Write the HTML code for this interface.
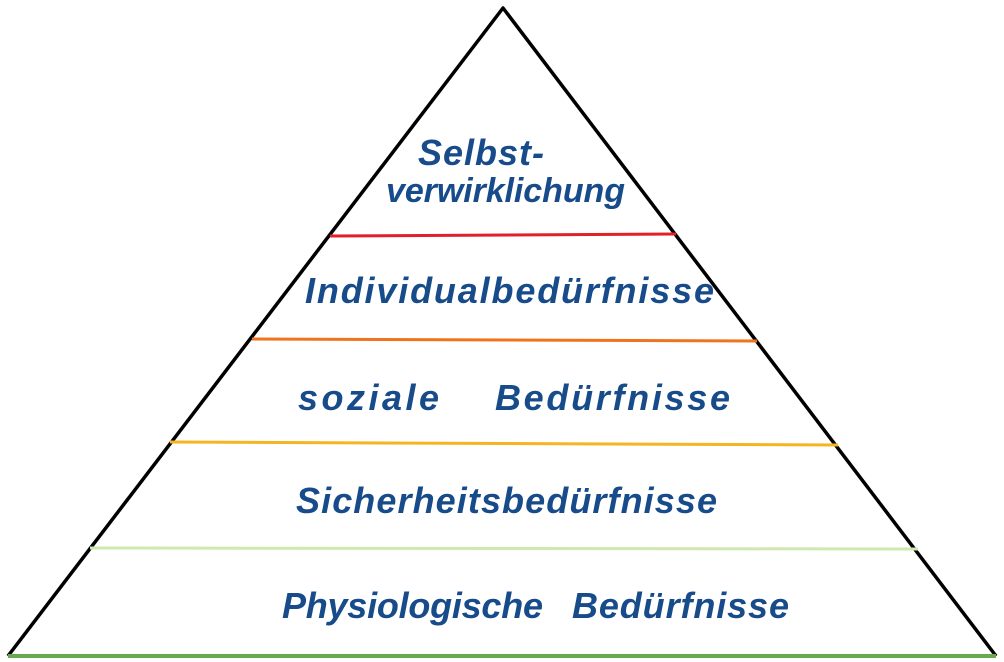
<!DOCTYPE html>
<html><head><meta charset="utf-8"><style>
html,body{margin:0;padding:0;background:#fff;width:1004px;height:662px;overflow:hidden}
svg{display:block}
text{font-family:"Liberation Sans",sans-serif;fill:#174b8a;font-style:italic;font-weight:bold;letter-spacing:1px}
</style></head><body>
<svg width="1004" height="662" viewBox="0 0 1004 662">
<polyline points="8,656 503,8 996,656" fill="none" stroke="#000" stroke-width="3.5" stroke-linejoin="round"/>
<line x1="330" y1="236" x2="676" y2="234" stroke="#e0202a" stroke-width="3"/>
<line x1="252" y1="339" x2="757" y2="341" stroke="#f0731e" stroke-width="3"/>
<line x1="170" y1="442" x2="838" y2="445" stroke="#f6b520" stroke-width="3"/>
<line x1="90" y1="548" x2="918" y2="549" stroke="#cfe8b0" stroke-width="3"/>
<line x1="8" y1="656" x2="996" y2="656" stroke="#6aa84f" stroke-width="4"/>
<text x="418" y="165" font-size="36">Selbst-</text>
<text x="386" y="202" font-size="34" textLength="240">verwirklichung</text>
<text x="305" y="303" font-size="36" textLength="410">Individualbedürfnisse</text>
<text x="298" y="410" font-size="36" textLength="142">soziale</text>
<text x="495" y="410" font-size="36" textLength="236">Bedürfnisse</text>
<text x="296" y="513" font-size="36" textLength="422">Sicherheitsbedürfnisse</text>
<text x="282" y="618" font-size="36" textLength="262">Physiologische</text>
<text x="572" y="618" font-size="36" textLength="218">Bedürfnisse</text>
</svg>
</body></html>
